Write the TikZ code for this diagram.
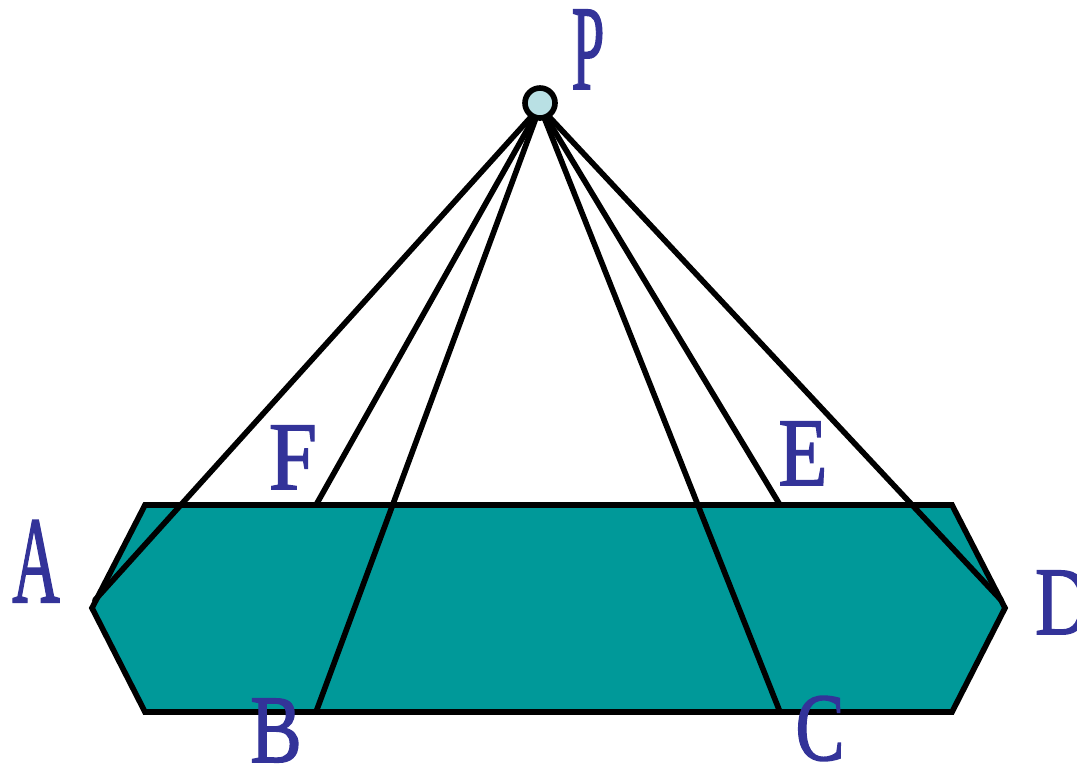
\documentclass[tikz,border=0pt]{standalone}
\usepackage{fontspec}
\setmainfont{Liberation Serif}
\newfontfamily\nhanfont[FakeBold=1.6]{Liberation Serif}
\usepackage{graphicx}
\definecolor{mauday}{HTML}{009999}
\definecolor{chudinh}{HTML}{333399}
\definecolor{mauP}{HTML}{B9E0E4}
\tikzset{
  nhan/.style={text=chudinh, inner sep=0pt, anchor=base, font=\nhanfont\fontsize{55}{55}\selectfont},
  canh/.style={line width=3.2pt, line cap=round}
}
\begin{document}
\begin{tikzpicture}[x=0.02cm, y=-0.02cm]
				\useasboundingbox (0,0) rectangle (1077,765);
				
				% Các điểm
				\coordinate (P) at (540,107);
				\coordinate (A) at (95,600);
				\coordinate (F) at (316,505);
				\coordinate (B) at (316,712);
				\coordinate (C) at (780,712);
				\coordinate (E) at (780,505);
				\coordinate (D) at (1001,600);
				
				% Tô màu đáy
				\filldraw[fill=mauday, canh, line join=miter] (145,505) -- (952,505) -- (1005,608) -- (952,712) -- (145,712) -- (92,608) -- cycle;
				
				% Các cạnh bên
				\foreach \q in {A,F,B,C,E,D}
					\draw[canh] (P) -- (\q);
				
				% Điểm P
				\filldraw[fill=mauP, canh] (540,103) circle (15);
				
				% Tên các điểm
				\node[nhan] (nhanP) at (588,89) {\scalebox{0.61}[1.25]{P}};
				\node[nhan] (nhanA) at (36,602) {\scalebox{0.68}[1.28]{A}};
				\node[nhan] (nhanF) at (293,489) {\scalebox{0.9}[1]{F}};
				\node[nhan] (nhanE) at (803,485) {\scalebox{0.83}[1]{E}};
				\node[nhan] (nhanB) at (276,762) {\scalebox{0.8}[1]{B}};
				\node[nhan] (nhanC) at (820,760) {\scalebox{0.76}[1]{C}};
				\node[nhan] (nhanD) at (1063,634) {\scalebox{0.8}[1]{D}};
			\end{tikzpicture}
\end{document}
